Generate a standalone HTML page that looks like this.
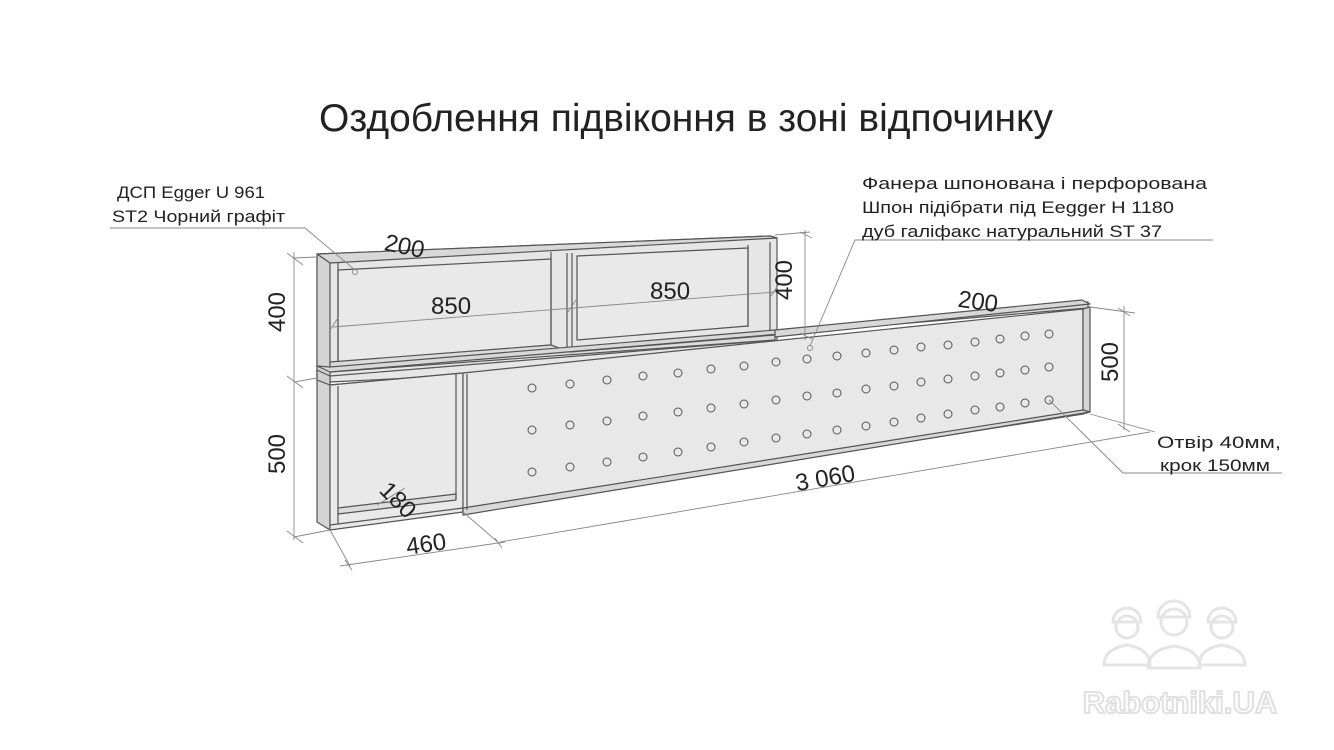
<!DOCTYPE html>
<html><head><meta charset="utf-8"><style>
html,body{margin:0;padding:0;background:#fff;}
svg{display:block}
text{font-family:"Liberation Sans",sans-serif;fill:#222}
</style></head><body>
<svg width="1334" height="750" viewBox="0 0 1334 750" xmlns="http://www.w3.org/2000/svg">
<text x="686" y="131" font-size="39" text-anchor="middle" fill="#222" textLength="734" lengthAdjust="spacingAndGlyphs">Оздоблення підвіконня в зоні відпочинку</text>

<g stroke="#555" stroke-width="1.2" fill="#e6e6e6" stroke-linejoin="round">
<polygon points="317,254 770,236 777,238 777,360 330,382 317,378"/>
<polygon points="317,254 770,236 777,238 330,263" fill="#d8d8d8"/>
<polygon points="338,270 551,259 551,345 338,362" fill="#e9e9e9"/>
<polygon points="577,256 748,248 748,326 577,340" fill="#e9e9e9"/>
<line x1="551" y1="252" x2="551" y2="346"/>
<line x1="567" y1="253" x2="567" y2="352"/>
<line x1="572" y1="253" x2="572" y2="352"/>
<line x1="748" y1="245" x2="748" y2="327"/>
<line x1="770" y1="242" x2="770" y2="333"/>
<line x1="338" y1="263" x2="338" y2="362"/>
<polygon points="317,254 330,263 330,530 317,522" fill="#d4d4d4"/>
<polygon points="330,362 551,345 570,352 775,335 775,340 330,372" fill="#dcdcdc"/>
<polygon points="317,366 330,372 1088,308 1088,302 775,330 330,367" fill="#d8d8d8"/>
<polygon points="317,370 330,376 330,385 317,380" fill="#d0d0d0"/>
<line x1="330" y1="376" x2="775" y2="340"/>
<line x1="330" y1="385" x2="463" y2="373"/>
<polygon points="330,385 463,373 463,512 330,530" fill="#e9e9e9"/>
<line x1="338" y1="386" x2="338" y2="524"/>
<polygon points="338,508 456,494 456,500 338,514" fill="#dcdcdc"/>
<line x1="456" y1="374" x2="456" y2="500"/>
<line x1="330" y1="525" x2="463" y2="508"/>
<polygon points="775,330 1082,300 1090,304 775,337" fill="#d8d8d8"/>
<polygon points="463,373 1083,309 1083,414 463,512" fill="#e8e8e8"/>
<polygon points="1083,309 1090,307 1090,412 1083,414" fill="#d4d4d4"/>
<polygon points="463,508 1083,410 1090,412 463,515" fill="#d8d8d8"/>
<line x1="467" y1="374" x2="467" y2="510"/>
</g>

<g stroke="#555" stroke-width="1" fill="none">
<circle cx="532" cy="388" r="4"/><circle cx="570" cy="384" r="4"/><circle cx="607" cy="380" r="4"/><circle cx="643" cy="376" r="4"/><circle cx="678" cy="373" r="4"/><circle cx="711" cy="369" r="4"/><circle cx="744" cy="366" r="4"/><circle cx="776" cy="362" r="4"/><circle cx="807" cy="359" r="4"/><circle cx="837" cy="356" r="4"/><circle cx="866" cy="353" r="4"/><circle cx="894" cy="350" r="4"/><circle cx="921" cy="347" r="4"/><circle cx="948" cy="345" r="4"/><circle cx="975" cy="342" r="4"/><circle cx="1000" cy="339" r="4"/><circle cx="1025" cy="336" r="4"/><circle cx="1049" cy="334" r="4"/>
<circle cx="532" cy="430" r="4"/><circle cx="570" cy="425" r="4"/><circle cx="607" cy="421" r="4"/><circle cx="643" cy="416" r="4"/><circle cx="678" cy="412" r="4"/><circle cx="711" cy="408" r="4"/><circle cx="744" cy="404" r="4"/><circle cx="776" cy="400" r="4"/><circle cx="807" cy="396" r="4"/><circle cx="837" cy="393" r="4"/><circle cx="866" cy="389" r="4"/><circle cx="894" cy="386" r="4"/><circle cx="921" cy="382" r="4"/><circle cx="948" cy="379" r="4"/><circle cx="975" cy="376" r="4"/><circle cx="1000" cy="373" r="4"/><circle cx="1025" cy="370" r="4"/><circle cx="1049" cy="367" r="4"/>
<circle cx="532" cy="472" r="4"/><circle cx="570" cy="467" r="4"/><circle cx="607" cy="462" r="4"/><circle cx="643" cy="457" r="4"/><circle cx="678" cy="452" r="4"/><circle cx="711" cy="447" r="4"/><circle cx="744" cy="442" r="4"/><circle cx="776" cy="438" r="4"/><circle cx="807" cy="434" r="4"/><circle cx="837" cy="430" r="4"/><circle cx="866" cy="426" r="4"/><circle cx="894" cy="422" r="4"/><circle cx="921" cy="418" r="4"/><circle cx="948" cy="414" r="4"/><circle cx="975" cy="410" r="4"/><circle cx="1000" cy="407" r="4"/><circle cx="1025" cy="403" r="4"/><circle cx="1049" cy="400" r="4"/>
</g>

<g stroke="#888" stroke-width="0.9" fill="none">
<line x1="294" y1="252" x2="294" y2="540"/>
<line x1="287" y1="253" x2="303" y2="265"/>
<line x1="287" y1="376" x2="303" y2="388"/>
<line x1="287" y1="531" x2="303" y2="543"/>
<line x1="294" y1="258" x2="317" y2="257"/>
<line x1="294" y1="382" x2="317" y2="378"/>
<line x1="294" y1="537" x2="330" y2="530"/>
<line x1="330" y1="530" x2="350" y2="566"/>
<line x1="340" y1="566" x2="505" y2="542"/>
<line x1="463" y1="512" x2="500" y2="544"/>
<line x1="495" y1="538" x2="502" y2="548"/>
<line x1="345" y1="560" x2="352" y2="570"/>
<line x1="500" y1="542" x2="1150" y2="432"/>
<line x1="1090" y1="414" x2="1155" y2="432"/>
<line x1="1090" y1="307" x2="1135" y2="313"/>
<line x1="1124" y1="306" x2="1124" y2="430"/>
<line x1="1118" y1="308" x2="1130" y2="316"/>
<line x1="1118" y1="424" x2="1130" y2="432"/>
<line x1="775" y1="235" x2="810" y2="232"/>
<line x1="805" y1="230" x2="805" y2="340"/>
<line x1="800" y1="232" x2="812" y2="238"/>
<line x1="800" y1="333" x2="812" y2="339"/>
<line x1="333" y1="327" x2="775" y2="292"/>
<line x1="330" y1="330" x2="338" y2="318"/>
<line x1="568" y1="312" x2="576" y2="300"/>
<line x1="771" y1="296" x2="779" y2="284"/>
<line x1="377" y1="505" x2="405" y2="488"/>
<polyline points="110,228 305,228 355,270"/>
<circle cx="355" cy="272" r="2.5"/>
<polyline points="1213,240 855,240 810,346"/>
<circle cx="810" cy="348" r="2.5"/>
<polyline points="1049,400 1123,473 1282,473"/>
</g>

<g font-size="24">
<text x="385" y="250" transform="rotate(12 385 242)">200</text>
<text x="431" y="314">850</text>
<text x="650" y="299">850</text>
<text x="958" y="310" transform="rotate(8 982 302)">200</text>
<text x="293" y="320" transform="rotate(-90 285 320)" text-anchor="middle">400</text>
<text x="293" y="462" transform="rotate(-90 285 462)" text-anchor="middle">500</text>
<text x="800" y="288" transform="rotate(-90 792 288)" text-anchor="middle">400</text>
<text x="1126" y="370" transform="rotate(-90 1118 370)" text-anchor="middle">500</text>
<text x="825" y="486" transform="rotate(-10 825 477)" text-anchor="middle">3 060</text>
<text x="426" y="552" transform="rotate(-8 426 543)" text-anchor="middle">460</text>
<text x="398" y="508" transform="rotate(45 398 500)" text-anchor="middle">180</text>
</g>
<g font-size="17">
<text x="117" y="198" textLength="148" lengthAdjust="spacingAndGlyphs">ДСП Egger U 961</text>
<text x="112" y="222" textLength="173" lengthAdjust="spacingAndGlyphs">ST2 Чорний графіт</text>
<text x="862" y="189" textLength="345" lengthAdjust="spacingAndGlyphs">Фанера шпонована і перфорована</text>
<text x="862" y="213" textLength="312" lengthAdjust="spacingAndGlyphs">Шпон підібрати під Eegger H 1180</text>
<text x="862" y="237" textLength="300" lengthAdjust="spacingAndGlyphs">дуб галіфакс натуральний ST 37</text>
<text x="1157" y="448" textLength="124" lengthAdjust="spacingAndGlyphs">Отвір 40мм,</text>
<text x="1160" y="471" textLength="110" lengthAdjust="spacingAndGlyphs">крок 150мм</text>
</g>

<g stroke="#e4e4e4" stroke-width="3" fill="none">
<circle cx="1127" cy="627" r="11"/><path d="M1113 622 a14 14 0 0 1 28 0 z"/><path d="M1104 665 q0-16 23-20 q23 4 23 20 z"/>
<circle cx="1222" cy="627" r="11"/><path d="M1208 622 a14 14 0 0 1 28 0 z"/><path d="M1199 665 q0-16 23-20 q23 4 23 20 z"/>
<circle cx="1174" cy="622" r="13"/><path d="M1158 617 a16 16 0 0 1 32 0 z"/><path d="M1148 668 q0-18 26-22 q26 4 26 22 z"/>
</g>
<text x="1180" y="713" font-size="31" font-weight="bold" text-anchor="middle" stroke="#e0e0e0" stroke-width="2" style="fill:#fff">Rabotniki.UA</text>
</svg>
</body></html>
